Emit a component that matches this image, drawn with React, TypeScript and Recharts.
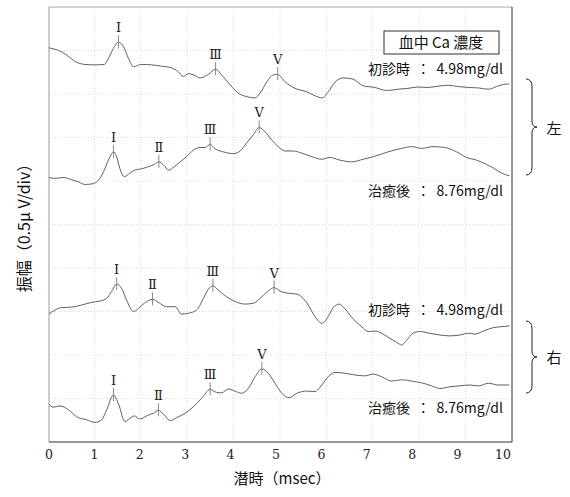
import { ComposedChart, Line, XAxis, YAxis, CartesianGrid, ReferenceDot, ReferenceLine } from "recharts";

// ABR waveforms, [latency msec, position in divisions (0.5 µV/div)]
const leftBefore: [number, number][] = [
  [0, 9.06], [0.13, 9.03], [0.28, 8.97], [0.43, 8.86], [0.61, 8.73], [0.79, 8.68], [1.01, 8.67],
  [1.22, 8.68], [1.31, 8.82], [1.42, 9.05], [1.53, 9.19], [1.64, 9.09], [1.75, 8.82], [1.86, 8.63],
  [2.04, 8.68], [2.26, 8.67], [2.48, 8.64], [2.7, 8.6], [2.85, 8.51], [2.96, 8.4], [3.07, 8.47],
  [3.18, 8.44], [3.33, 8.37], [3.51, 8.45], [3.67, 8.57], [3.8, 8.44], [3.99, 8.21], [4.17, 8.02],
  [4.35, 7.94], [4.54, 7.91], [4.65, 8.02], [4.8, 8.28], [4.94, 8.44], [5.04, 8.45], [5.2, 8.28],
  [5.42, 8.13], [5.68, 8.05], [5.86, 7.96], [6.02, 7.91], [6.15, 8.05], [6.3, 8.27], [6.48, 8.37],
  [6.7, 8.34], [6.92, 8.19], [7.18, 8.15], [7.44, 8.08], [7.69, 8.11], [7.91, 8.13], [8.13, 8.16],
  [8.35, 8.15], [8.57, 8.18], [8.8, 8.2], [9.02, 8.17], [9.24, 8.15], [9.46, 8.14], [9.68, 8.11],
  [9.86, 8.17], [10.01, 8.22], [10.14, 8.23],
];

const leftAfter: [number, number][] = [
  [0, 6.08], [0.13, 6.06], [0.31, 6.08], [0.5, 6.03], [0.65, 5.98], [0.79, 5.92], [0.98, 5.94],
  [1.09, 6.02], [1.2, 6.21], [1.31, 6.48], [1.42, 6.67], [1.49, 6.56], [1.56, 6.29], [1.66, 6.1],
  [1.78, 6.18], [1.89, 6.25], [2.04, 6.28], [2.19, 6.33], [2.32, 6.38], [2.42, 6.44], [2.52, 6.37],
  [2.64, 6.25], [2.76, 6.33], [2.89, 6.44], [3.03, 6.56], [3.18, 6.71], [3.33, 6.77], [3.44, 6.77],
  [3.55, 6.84], [3.66, 6.74], [3.84, 6.67], [4.06, 6.63], [4.21, 6.69], [4.35, 6.87], [4.5, 7.06],
  [4.63, 7.23], [4.76, 7.13], [4.91, 6.94], [5.05, 6.79], [5.2, 6.69], [5.38, 6.69], [5.57, 6.64],
  [5.79, 6.56], [6.01, 6.5], [6.19, 6.54], [6.41, 6.48], [6.67, 6.44], [6.92, 6.5], [7.18, 6.57],
  [7.47, 6.67], [7.77, 6.75], [7.99, 6.79], [8.21, 6.75], [8.46, 6.79], [8.72, 6.77], [8.98, 6.67],
  [9.2, 6.54], [9.42, 6.48], [9.64, 6.38], [9.82, 6.28], [9.97, 6.18], [10.14, 6.12],
];

const rightBefore: [number, number][] = [
  [0, 2.94], [0.09, 3.01], [0.28, 3.09], [0.5, 3.1], [0.72, 3.15], [0.94, 3.21], [1.12, 3.24],
  [1.27, 3.3], [1.38, 3.46], [1.49, 3.63], [1.6, 3.53], [1.71, 3.26], [1.86, 3.0], [1.97, 3.07],
  [2.11, 3.2], [2.28, 3.28], [2.41, 3.21], [2.59, 3.11], [2.78, 3.11], [2.92, 2.94], [3.07, 2.96],
  [3.25, 3.03], [3.4, 3.3], [3.51, 3.51], [3.61, 3.59], [3.73, 3.49], [3.91, 3.34], [4.1, 3.23],
  [4.32, 3.17], [4.5, 3.19], [4.69, 3.34], [4.85, 3.49], [4.96, 3.55], [5.09, 3.47], [5.27, 3.42],
  [5.46, 3.4], [5.6, 3.3], [5.71, 3.15], [5.86, 2.88], [6.02, 2.73], [6.15, 2.88], [6.26, 3.09],
  [6.39, 3.17], [6.52, 3.06], [6.7, 2.83], [6.89, 2.65], [7.03, 2.54], [7.18, 2.55], [7.33, 2.5],
  [7.51, 2.38], [7.66, 2.29], [7.77, 2.23], [7.88, 2.34], [8.02, 2.5], [8.17, 2.54], [8.39, 2.5],
  [8.61, 2.46], [8.83, 2.44], [9.05, 2.46], [9.24, 2.5], [9.38, 2.48], [9.57, 2.55], [9.79, 2.63],
  [9.97, 2.65], [10.14, 2.67],
];

const rightAfter: [number, number][] = [
  [0, 0.87], [0.09, 0.8], [0.24, 0.83], [0.43, 0.74], [0.61, 0.58], [0.83, 0.51], [1.01, 0.45],
  [1.16, 0.51], [1.27, 0.74], [1.42, 1.08], [1.54, 0.85], [1.67, 0.47], [1.78, 0.54], [1.88, 0.6],
  [2.0, 0.53], [2.19, 0.62], [2.3, 0.66], [2.41, 0.73], [2.54, 0.62], [2.67, 0.49], [2.81, 0.56],
  [3.0, 0.66], [3.18, 0.81], [3.36, 1.0], [3.55, 1.21], [3.69, 1.14], [3.8, 1.13], [3.95, 1.22],
  [4.1, 1.17], [4.24, 1.12], [4.39, 1.23], [4.54, 1.5], [4.69, 1.68], [4.83, 1.58], [4.98, 1.35],
  [5.13, 1.12], [5.29, 1.02], [5.46, 1.12], [5.68, 1.17], [5.86, 1.16], [6.01, 1.31], [6.15, 1.5],
  [6.3, 1.6], [6.52, 1.58], [6.74, 1.54], [6.96, 1.52], [7.14, 1.56], [7.33, 1.5], [7.55, 1.4],
  [7.77, 1.43], [7.99, 1.4], [8.21, 1.36], [8.43, 1.29], [8.61, 1.23], [8.83, 1.27], [9.05, 1.29],
  [9.27, 1.31], [9.46, 1.29], [9.68, 1.35], [9.9, 1.31], [10.14, 1.31],
];

// wave peaks: [latency, position, label]
const peaks: [number, number, string][] = [
  [1.53, 9.19, "Ⅰ"], [3.67, 8.57, "Ⅲ"], [5.04, 8.46, "Ⅴ"],
  [1.42, 6.67, "Ⅰ"], [2.42, 6.44, "Ⅱ"], [3.55, 6.84, "Ⅲ"], [4.63, 7.23, "Ⅴ"],
  [1.49, 3.63, "Ⅰ"], [2.28, 3.28, "Ⅱ"], [3.61, 3.59, "Ⅲ"], [4.96, 3.55, "Ⅴ"],
  [1.42, 1.08, "Ⅰ"], [2.41, 0.73, "Ⅱ"], [3.55, 1.21, "Ⅲ"], [4.69, 1.68, "Ⅴ"],
];

const xTicks = [0, 1, 2, 3, 4, 5, 6, 7, 8, 9, 10];
const gridX = [1.0, 2.02, 3.04, 4.07, 5.09, 6.11, 7.13, 8.15, 9.18];
const gridY = [1, 2, 3, 4, 5, 6, 7, 8, 9];

const traces = [leftBefore, leftAfter, rightBefore, rightAfter];
const jp = '"Noto Sans CJK JP", "Noto Sans", sans-serif';
const serif = '"DejaVu Serif", "Liberation Serif", serif';

function toRows(d: [number, number][]) {
  return d.map(([t, v]) => ({ t, v }));
}

function peakShape(label: string) {
  return (p: any) => (
    <g>
      <line x1={p.cx} x2={p.cx} y1={p.cy - 7} y2={p.cy + 6} stroke="#888" strokeWidth={1} />
      <text x={p.cx} y={p.cy - 10} textAnchor="middle" fontSize={13} fontFamily={serif} fill="#222">
        {label}
      </text>
    </g>
  );
}

function Brace({ x, y1, y2 }: { x: number; y1: number; y2: number }) {
  const m = (y1 + y2) / 2;
  const d = `M${x},${y1} Q${x + 6},${y1} ${x + 6},${y1 + 8} L${x + 6},${m - 6} Q${x + 6},${m} ${x + 11},${m}
    Q${x + 6},${m} ${x + 6},${m + 6} L${x + 6},${y2 - 8} Q${x + 6},${y2} ${x},${y2}`;
  return <path d={d} fill="none" stroke="#222" strokeWidth={1} />;
}

function Note({ y, text }: { y: number; text: string }) {
  return (
    <text x={503} y={y} textAnchor="end" fontSize={14} fontFamily={jp} fill="#111" style={{ whiteSpace: "pre" }}>
      {text}
    </text>
  );
}

export default function App() {
  return (
    <div style={{ position: "absolute", left: 0, top: 0, width: 570, height: 497, background: "#fff" }}>
      <ComposedChart width={570} height={497} margin={{ top: 7, right: 58, left: 49, bottom: 25 }}>
        <CartesianGrid
          stroke="#d8d8d8"
          strokeDasharray="1 2"
          verticalValues={gridX}
          horizontalValues={gridY}
        />
        <XAxis
          dataKey="t"
          type="number"
          domain={[0, 10.2]}
          ticks={xTicks}
          allowDataOverflow
          height={30}
          tickLine={false}
          axisLine={{ stroke: "#333" }}
          tick={{ fill: "#222", fontSize: 12.5, fontFamily: serif }}
        />
        <YAxis type="number" domain={[0, 10]} hide />
        <ReferenceLine x={0} stroke="#999" />
        <ReferenceLine y={10} stroke="#aaa" />
        <ReferenceLine x={10.2} stroke="#333" />
        {traces.map((d, i) => (
          <Line
            key={i}
            data={toRows(d)}
            dataKey="v"
            type="monotone"
            stroke="#606060"
            strokeWidth={1}
            dot={false}
            activeDot={false}
            isAnimationActive={false}
          />
        ))}
        {peaks.map(([t, v, label], i) => (
          <ReferenceDot key={i} x={t} y={v} r={0} shape={peakShape(label)} />
        ))}
      </ComposedChart>
      <svg width={570} height={497} style={{ position: "absolute", left: 0, top: 0, pointerEvents: "none" }}>
        <rect x={384} y={31} width={115} height={23} fill="#fff" stroke="#333" strokeWidth={1} />
        <text x={441} y={48} textAnchor="middle" fontSize={15} fontFamily={jp} fill="#111">血中 Ca 濃度</text>
        <Note y={74} text="初診時  ：  4.98mg/dl" />
        <Note y={196} text="治癒後  ：  8.76mg/dl" />
        <Note y={315} text="初診時  ：  4.98mg/dl" />
        <Note y={413} text="治癒後  ：  8.76mg/dl" />
        <Brace x={526} y1={79} y2={175} />
        <Brace x={526} y1={321} y2={393} />
        <text x={554} y={134} textAnchor="middle" fontSize={15} fontFamily={jp} fill="#111">左</text>
        <text x={554} y={363} textAnchor="middle" fontSize={15} fontFamily={jp} fill="#111">右</text>
        <text x={282} y={484} textAnchor="middle" fontSize={15} fontFamily={jp} fill="#111">潜時（msec）</text>
        <text
          x={0}
          y={0}
          transform="translate(30,224) rotate(-90)"
          textAnchor="middle"
          fontSize={16}
          fontFamily={jp}
          fill="#111"
        >
          振幅（0.5μ V/div）
        </text>
      </svg>
    </div>
  );
}
